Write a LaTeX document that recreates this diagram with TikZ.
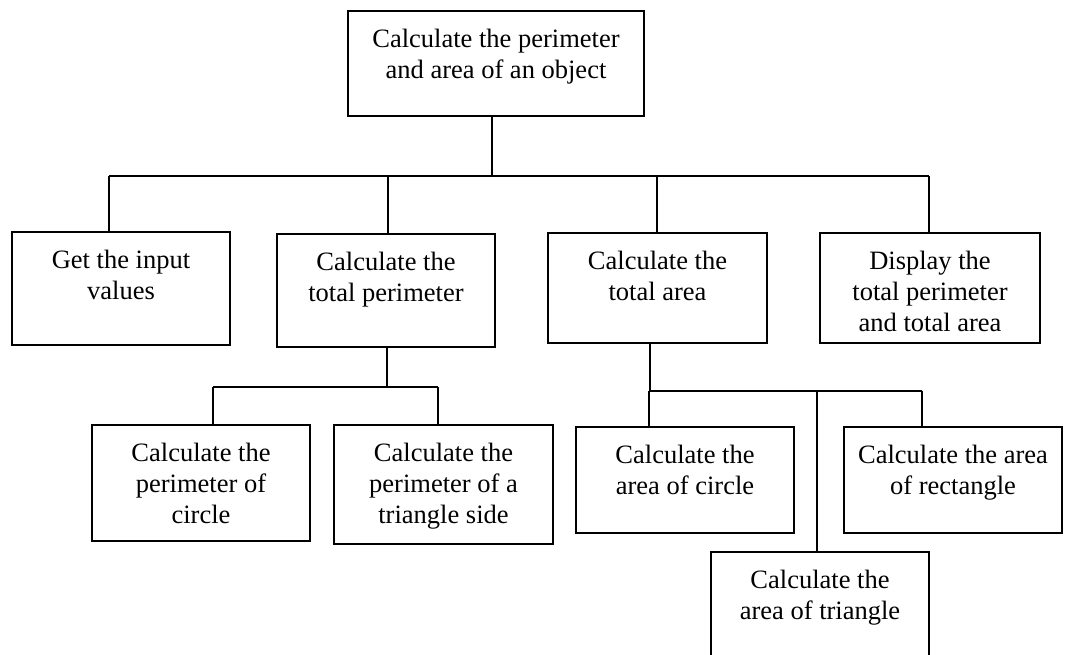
\documentclass[tikz,border=0pt]{standalone}
\usepackage{fontspec}
\setmainfont{Liberation Serif}
\begin{document}
\begin{tikzpicture}[x=1pt,y=-1pt,
  box/.style={draw=black, line width=1.6pt, inner sep=0pt, outer sep=0pt},
  txt/.style={inner sep=0pt, align=center, anchor=north,
    font=\fontsize{26.5}{31}\selectfont},
  link/.style={draw=black, line width=1.6pt}]
\useasboundingbox (0,0) rectangle (1074,654);
\clip (0,0) rectangle (1074,654);

% boxes
\node[box, minimum width=296, minimum height=105] (top)   at (496,63.5)  {};
\node[box, minimum width=218, minimum height=113] (input) at (121,288.5) {};
\node[box, minimum width=218, minimum height=113] (perim) at (386,290.5) {};
\node[box, minimum width=219, minimum height=110] (area)  at (657.5,288) {};
\node[box, minimum width=220, minimum height=110] (disp)  at (930,288)   {};
\node[box, minimum width=218, minimum height=116] (pcirc) at (201,483)   {};
\node[box, minimum width=219, minimum height=119] (ptri)  at (443.5,484.5) {};
\node[box, minimum width=218, minimum height=106] (acirc) at (685,480)   {};
\node[box, minimum width=218, minimum height=106] (arect) at (953,480)   {};
\node[box, minimum width=218, minimum height=113] (atri)  at (820,608.5) {};

% labels
\node[txt] (top-t)   at ([yshift=-18pt]top.north)   {Calculate the perimeter\\and area of an object};
\node[txt] (input-t) at ([yshift=-18pt]input.north) {Get the input\\values};
\node[txt] (perim-t) at ([yshift=-18pt]perim.north) {Calculate the\\total perimeter};
\node[txt] (area-t)  at ([yshift=-18pt]area.north)  {Calculate the\\total area};
\node[txt] (disp-t)  at ([yshift=-18pt]disp.north)  {Display the\\total perimeter\\and total area};
\node[txt] (pcirc-t) at ([yshift=-18pt]pcirc.north) {Calculate the\\perimeter of\\circle};
\node[txt] (ptri-t)  at ([yshift=-18pt]ptri.north)  {Calculate the\\perimeter of a\\triangle side};
\node[txt] (acirc-t) at ([yshift=-18pt]acirc.north) {Calculate the\\area of circle};
\node[txt] (arect-t) at ([yshift=-18pt]arect.north) {Calculate the area\\of rectangle};
\node[txt] (atri-t)  at ([yshift=-18pt]atri.north)  {Calculate the\\area of triangle};

% junction points
\coordinate (j0) at (492,176);
\coordinate (b1) at (109,176);
\coordinate (b2) at (388,176);
\coordinate (b3) at (657,176);
\coordinate (b4) at (929,176);
\coordinate (p0) at (387,387);
\coordinate (p1) at (213,387);
\coordinate (p2) at (438,387);
\coordinate (a0) at (650,391);
\coordinate (a1) at (649,391);
\coordinate (a2) at (817,391);
\coordinate (a3) at (922,391);

% first level
\draw[link] (j0 |- top.south) -- (j0);
\draw[link] (b1) -- (b4);
\draw[link] (b1) -- (b1 |- input.north);
\draw[link] (b2) -- (b2 |- perim.north);
\draw[link] (b3) -- (b3 |- area.north);
\draw[link] (b4) -- (b4 |- disp.north);

% perimeter branch
\draw[link] (p0 |- perim.south) -- (p0);
\draw[link] (p1) -- (p2);
\draw[link] (p1) -- (p1 |- pcirc.north);
\draw[link] (p2) -- (p2 |- ptri.north);

% area branch
\draw[link] (a0 |- area.south) -- (a0);
\draw[link] (a1) -- (a3);
\draw[link] (a1) -- (a1 |- acirc.north);
\draw[link] (a2) -- (a2 |- atri.north);
\draw[link] (a3) -- (a3 |- arect.north);
\end{tikzpicture}
\end{document}
